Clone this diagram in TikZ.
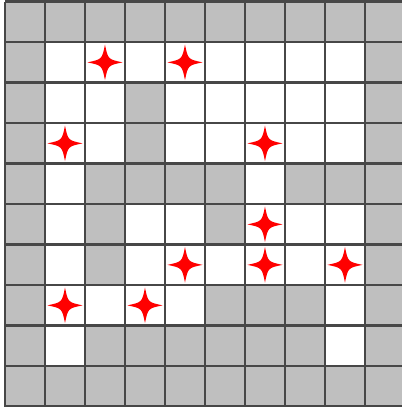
\documentclass[tikz,border=0pt]{standalone}
\begin{document}
\begin{tikzpicture}[x=1cm,y=1.0125cm,
  wall/.style={fill=black!25},
  gridline/.style={draw=black!72,line width=0.06cm},
  starfill/.style={fill=red}]
\useasboundingbox (-0.125,-0.01) rectangle (9.925,10.04);
% gray (wall) cells: col/row, row 0 at top
\foreach \c/\r in {0/0,1/0,2/0,3/0,4/0,5/0,6/0,7/0,8/0,9/0,
  0/1,9/1,
  0/2,3/2,9/2,
  0/3,3/3,9/3,
  0/4,2/4,3/4,4/4,5/4,7/4,8/4,9/4,
  0/5,2/5,5/5,9/5,
  0/6,2/6,9/6,
  0/7,5/7,6/7,7/7,9/7,
  0/8,2/8,3/8,4/8,5/8,6/8,7/8,9/8,
  0/9,1/9,2/9,3/9,4/9,5/9,6/9,7/9,8/9,9/9}
  {\path[wall] (\c,9-\r) rectangle ++(1,1);}
% grid
\foreach \i in {0,...,10} {
  \draw[gridline] (\i,0) -- (\i,10);
  \draw[gridline] (0,\i) -- (10,\i);
}
% stars
\foreach \c/\r in {2/1,4/1,1/3,6/3,6/5,4/6,6/6,8/6,1/7,3/7} {
  \path[starfill,shift={(\c+0.5,9.5-\r)}] (0.44,0) .. controls (0.075,0.075) .. (0,0.44)
      .. controls (-0.075,0.075) .. (-0.44,0)
      .. controls (-0.075,-0.075) .. (0,-0.44)
      .. controls (0.075,-0.075) .. cycle;
}
\end{tikzpicture}
\end{document}
